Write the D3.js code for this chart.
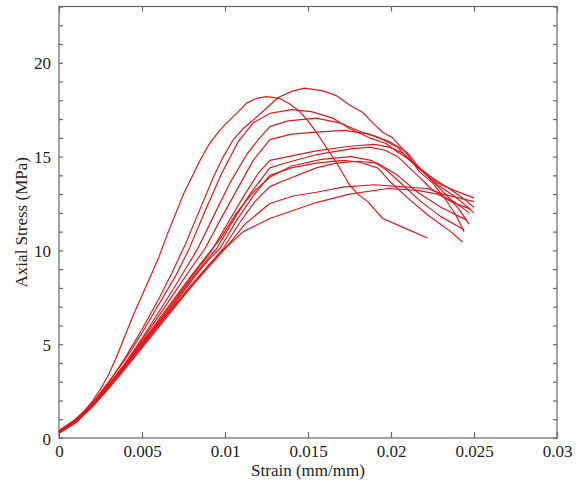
<!DOCTYPE html>
<html>
<head>
<meta charset="utf-8">
<script src="https://cdn.jsdelivr.net/npm/d3@7"></script>
<style>
  body { margin: 0; background: #fff; }
  svg { display: block; }
</style>
</head>
<body>
<svg id="chart" width="587" height="485"></svg>
<script>
"use strict";
// stress-strain curves, [strain (mm/mm), axial stress (MPa)]
const specimenA = [[0,0.32],[0.0005,0.65],[0.001,1.0],[0.0015,1.4],[0.002,1.95],[0.0025,2.6],[0.003,3.4],[0.0035,4.4],[0.004,5.5],[0.0045,6.6],[0.005,7.6],[0.0055,8.6],[0.006,9.6],[0.0065,10.8],[0.007,11.9],[0.0075,13.0],[0.008,13.9],[0.0085,14.8],[0.009,15.6],[0.0095,16.2],[0.01,16.7],[0.0107,17.3],[0.0113,17.85],[0.0119,18.1],[0.0125,18.2],[0.0133,18.1],[0.0139,17.8],[0.0145,17.4],[0.015,16.9],[0.0155,16.3],[0.0161,15.5],[0.0168,14.55],[0.0175,13.5],[0.018,13.0],[0.0186,12.6],[0.0195,11.7],[0.0208,11.2],[0.0222,10.66]];
const specimenB = [[0,0.3],[0.001,0.9],[0.002,1.8],[0.003,2.95],[0.004,4.3],[0.005,5.8],[0.006,7.4],[0.0068,8.8],[0.0076,10.3],[0.0084,12.0],[0.0093,13.9],[0.0099,15.0],[0.0105,15.9],[0.0111,16.5],[0.0117,16.95],[0.0124,17.5],[0.0132,18.15],[0.0141,18.5],[0.0148,18.65],[0.0159,18.5],[0.0167,18.25],[0.0175,17.75],[0.0183,17.35],[0.0189,16.8],[0.0195,16.3],[0.0201,16.0],[0.0205,15.6],[0.021,15.1],[0.0217,14.2],[0.0225,13.6],[0.0233,12.7],[0.0239,11.9],[0.0244,11.0]];
const specimenC = [[0,0.35],[0.001,0.95],[0.002,1.85],[0.003,3.0],[0.004,4.2],[0.005,5.6],[0.006,7.1],[0.007,8.6],[0.0078,10.0],[0.0088,12.1],[0.0098,14.1],[0.0108,15.8],[0.0117,16.8],[0.0127,17.3],[0.014,17.5],[0.0152,17.4],[0.0165,17.05],[0.0175,16.5],[0.0187,16.0],[0.0197,15.7],[0.0203,15.3],[0.021,14.9],[0.0218,14.3],[0.0226,13.8],[0.0235,13.3],[0.0243,12.8],[0.025,12.3]];
const specimenD = [[0,0.3],[0.001,0.9],[0.002,1.75],[0.003,2.85],[0.004,4.0],[0.005,5.3],[0.006,6.7],[0.007,8.1],[0.0083,10.0],[0.0093,11.8],[0.0103,13.6],[0.0113,15.1],[0.012,15.9],[0.0127,16.6],[0.0138,16.9],[0.0155,17.05],[0.0169,16.8],[0.0181,16.35],[0.0193,16.0],[0.0204,15.5],[0.021,14.9],[0.0219,14.2],[0.0228,13.5],[0.0238,12.9],[0.0245,12.4],[0.025,12.0]];
const specimenE = [[0,0.4],[0.001,1.0],[0.002,1.85],[0.003,2.85],[0.004,3.95],[0.005,5.2],[0.006,6.5],[0.007,7.8],[0.008,9.1],[0.0088,10.1],[0.0097,11.6],[0.0107,13.2],[0.0117,14.8],[0.0127,15.9],[0.014,16.2],[0.0155,16.3],[0.0172,16.4],[0.0187,16.2],[0.0199,15.8],[0.021,15.2],[0.0217,14.4],[0.0226,13.6],[0.0235,12.8],[0.0241,12.2],[0.0247,11.4]];
const specimenF = [[0,0.3],[0.001,0.85],[0.002,1.7],[0.003,2.75],[0.004,3.85],[0.005,5.0],[0.006,6.2],[0.007,7.4],[0.008,8.6],[0.0092,10.0],[0.0102,11.5],[0.0112,13.0],[0.012,14.1],[0.0127,14.8],[0.0138,15.0],[0.0155,15.3],[0.0175,15.55],[0.019,15.65],[0.0199,15.5],[0.0207,15.2],[0.0216,14.5],[0.0228,13.6],[0.0238,13.2],[0.025,12.8]];
const specimenG = [[0,0.35],[0.001,0.9],[0.002,1.75],[0.003,2.8],[0.004,3.9],[0.005,5.0],[0.006,6.1],[0.007,7.3],[0.008,8.5],[0.009,9.6],[0.0095,10.1],[0.0105,11.6],[0.0115,13.0],[0.0127,14.4],[0.0138,14.7],[0.0155,15.1],[0.0175,15.4],[0.0187,15.5],[0.0196,15.35],[0.0204,15.0],[0.0216,14.0],[0.0224,13.3],[0.0236,12.6],[0.0248,12.2]];
const specimenH = [[0,0.3],[0.001,0.85],[0.002,1.7],[0.003,2.7],[0.004,3.8],[0.005,4.9],[0.006,6.0],[0.007,7.2],[0.008,8.4],[0.009,9.5],[0.0097,10.1],[0.0107,11.6],[0.0117,12.9],[0.0127,14.0],[0.014,14.4],[0.0155,14.65],[0.0171,14.8],[0.0181,14.7],[0.0192,14.4],[0.0199,13.7],[0.021,12.8],[0.0222,11.9],[0.0236,11.0],[0.0243,10.45]];
const specimenI = [[0,0.25],[0.001,0.8],[0.002,1.65],[0.003,2.65],[0.004,3.7],[0.005,4.8],[0.006,5.9],[0.007,7.0],[0.008,8.1],[0.009,9.2],[0.0099,10.1],[0.0109,11.5],[0.0118,12.6],[0.0127,13.4],[0.0135,13.7],[0.0155,14.4],[0.0167,14.65],[0.018,14.75],[0.0192,14.65],[0.0204,14.0],[0.0216,13.1],[0.023,12.3],[0.0246,11.6]];
const specimenJ = [[0,0.3],[0.001,0.85],[0.002,1.7],[0.003,2.7],[0.004,3.8],[0.005,4.9],[0.006,6.0],[0.007,7.1],[0.008,8.2],[0.009,9.2],[0.0102,10.3],[0.0112,11.4],[0.0127,12.5],[0.0141,12.9],[0.0155,13.1],[0.0171,13.37],[0.019,13.5],[0.0205,13.4],[0.0222,13.3],[0.0231,13.0],[0.0241,12.8],[0.025,12.6]];
const specimenK = [[0,0.35],[0.001,0.9],[0.002,1.75],[0.003,2.75],[0.004,3.9],[0.0048,4.9],[0.006,6.1],[0.007,7.1],[0.008,8.1],[0.0089,9.0],[0.01,10.1],[0.0111,11.0],[0.0127,11.7],[0.014,12.1],[0.0155,12.55],[0.0175,13.0],[0.0198,13.3],[0.0216,13.2],[0.0228,13.0],[0.0238,12.6],[0.0247,12.0]];
const specimenL = [[0,0.3],[0.001,0.9],[0.002,1.75],[0.003,2.8],[0.004,3.9],[0.005,5.1],[0.006,6.3],[0.007,7.5],[0.008,8.7],[0.0088,9.6],[0.0097,10.6],[0.0107,12.0],[0.0117,13.1],[0.0127,13.9],[0.014,14.5],[0.0158,14.85],[0.0176,15.0],[0.0188,14.8],[0.0197,14.3],[0.0207,13.5],[0.0218,12.6],[0.023,11.8],[0.0244,11.1]];

const xTicks = [0, 0.005, 0.01, 0.015, 0.02, 0.025, 0.03];
const yTicks = [0, 5, 10, 15, 20];

const FONT = "'Liberation Serif', Tinos, 'Times New Roman', 'DejaVu Serif', serif";

drawCurves();

function drawCurves(){
  const svg = d3.select("#chart");
  const margin = {left: 59, top: 6.5, right: 30, bottom: 47};
  const w = 587 - margin.left - margin.right, h = 485 - margin.top - margin.bottom;
  const g = svg.append("g").attr("transform", `translate(${margin.left},${margin.top})`);

  const x = d3.scaleLinear().domain([0, 0.03]).range([0, w]);
  const y = d3.scaleLinear().domain([0, 23]).range([h, 0]);
  const fmt = d => d === 0 ? "0" : String(d);

  // frame with inward ticks on all four sides
  g.append("rect").attr("width", w).attr("height", h)
    .attr("fill", "none").attr("stroke", "#666").attr("stroke-width", 1.2);

  const bottom = g.append("g").attr("transform", `translate(0,${h})`)
    .call(d3.axisBottom(x).tickValues(xTicks).tickSize(-6).tickPadding(7).tickFormat(fmt));
  const top = g.append("g")
    .call(d3.axisTop(x).tickValues(xTicks).tickSize(-5).tickFormat(""));
  const minorY = d3.range(0, 24);
  const left = g.append("g")
    .call(d3.axisLeft(y).tickValues(minorY).tickSize(-4).tickPadding(8)
      .tickFormat(d => yTicks.includes(d) ? fmt(d) : ""));
  const right = g.append("g").attr("transform", `translate(${w},0)`)
    .call(d3.axisRight(y).tickValues(minorY).tickSize(-4).tickFormat(""));

  [bottom, top, left, right].forEach(a => {
    a.attr("font-family", FONT).attr("font-size", 17);
    a.select(".domain").remove();
    a.selectAll(".tick line").attr("stroke", "#666").attr("stroke-width", 1.2);
    a.selectAll(".tick text").attr("fill", "#222");
  });
  left.selectAll(".tick text").attr("dy", "0.36em");

  const line = d3.line().x(d => x(d[0])).y(d => y(d[1]));
  const curves = [specimenA, specimenB, specimenC, specimenD, specimenE, specimenF,
    specimenG, specimenH, specimenI, specimenJ, specimenK, specimenL];
  g.append("g").selectAll("path").data(curves).join("path")
    .attr("d", line).attr("fill", "none")
    .attr("stroke", "#dc1a1e").attr("stroke-width", 1.2).attr("stroke-linejoin", "round");

  svg.append("text").attr("font-family", FONT).attr("font-size", 17).attr("fill", "#222")
    .attr("x", margin.left + w / 2).attr("y", 476).attr("text-anchor", "middle")
    .text("Strain (mm/mm)");
  svg.append("text").attr("font-family", FONT).attr("font-size", 17).attr("fill", "#222")
    .attr("transform", `translate(27,${margin.top + h / 2}) rotate(-90)`)
    .attr("text-anchor", "middle")
    .text("Axial Stress (MPa)");
}
</script>
</body>
</html>
